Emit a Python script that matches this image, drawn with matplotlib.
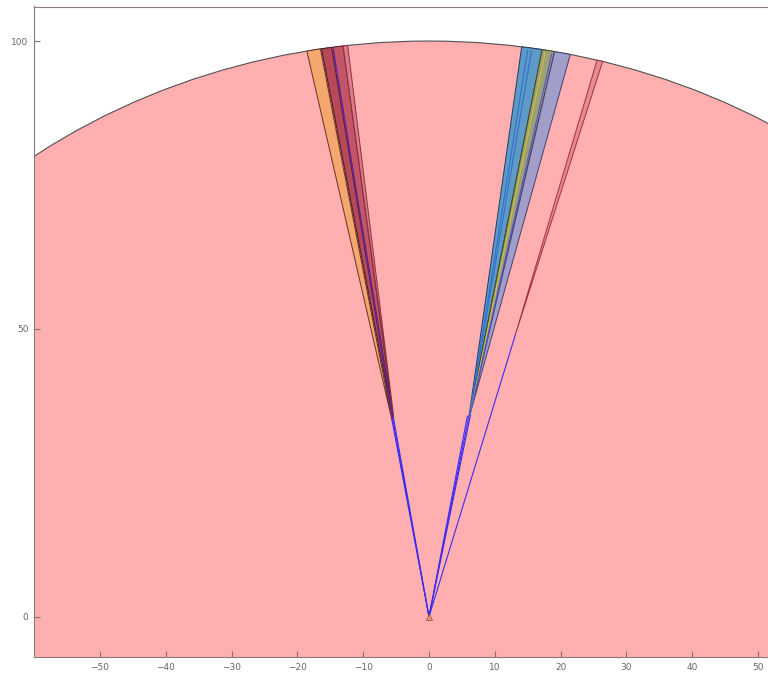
import numpy as np
import matplotlib
matplotlib.use("Agg")
import matplotlib.pyplot as plt
from matplotlib.patches import Circle, Polygon

# Sensor range and field
sensor_range = 100.0

# Shadow regions behind obstacles: apex (x, y), arc start/end angle (deg from +y, positive toward +x), colour
shadow_apex_x = [-5.6, -5.5, -5.4, -5.35, 6.1, 6.2, 6.3, 13.1]
shadow_apex_y = [34.0, 34.3, 34.5, 34.6, 35.0, 35.2, 35.4, 48.9]
shadow_theta1 = [-10.7, -9.4, -8.4, -7.5, 8.1, 9.9, 11.0, 14.8]
shadow_theta2 = [-9.5, -8.5, -7.5, -7.1, 9.9, 11.0, 12.4, 15.3]
shadow_colors = ["#F4A870", "#B64858", "#C45468", "#E07A88",
                 "#5E9AC6", "#9CA072", "#A29ECA", "#E88A92"]
shadow_edges = ["#6A3020", "#40181C", "#5A1C2C", "#8A3040",
                "#203A60", "#4A4A20", "#404070", "#A03040"]

# Extra boundary lines inside shadows: start point (x, y), end angle (deg), colour
inner_x0 = [-5.5, 6.2, 6.2, 6.3, 6.3]
inner_y0 = [34.3, 35.2, 35.2, 35.4, 35.4]
inner_theta = [-8.4, 8.66, 9.0, 10.2, 10.8]
inner_colors = ["#6020C0", "#3070D0", "#3070D0", "#C8C040", "#5050E0"]

# Rays from the sensor to detected obstacle points: angle (deg), length
ray_theta = [-9.36, -9.1, -8.9, 9.87, 9.5, 10.2, 15.0]
ray_len = [34.6, 34.8, 35.0, 35.5, 35.3, 35.6, 50.6]

xticks = [-50, -40, -30, -20, -10, 0, 10, 20, 30, 40, 50]
yticks = [0, 50, 100]


def polar(r, th_deg):
    t = np.radians(th_deg)
    return r * np.sin(t), r * np.cos(t)


fig = plt.figure(figsize=(7.68, 6.73), dpi=100)
ax = fig.add_axes([34 / 768, 16.5 / 673, 736 / 768, 650 / 673])

ax.add_patch(Circle((0, 0), sensor_range, facecolor="#FFAFB0",
                    edgecolor="#505050", linewidth=0.8, zorder=1))

for ax_x, ax_y, t1, t2, fc, ec in zip(shadow_apex_x, shadow_apex_y, shadow_theta1,
                                      shadow_theta2, shadow_colors, shadow_edges):
    ts = np.linspace(t1, t2, 20)
    pts = [(ax_x, ax_y)] + [polar(sensor_range, t) for t in ts]
    ax.add_patch(Polygon(pts, closed=True, facecolor=fc, edgecolor=ec,
                         linewidth=0.7, zorder=2))

for x0, y0, t, c in zip(inner_x0, inner_y0, inner_theta, inner_colors):
    x1, y1 = polar(sensor_range - 0.5, t)
    ax.plot([x0, x1], [y0, y1], color=c, linewidth=0.8, zorder=3)

for t, r in zip(ray_theta, ray_len):
    x1, y1 = polar(r, t)
    ax.plot([0, x1], [0, y1], color="#3A2CF0", linewidth=0.8, zorder=4)

ax.plot([0], [0], marker="^", markersize=4, markerfacecolor="#E8A080",
        markeredgecolor="#A05040", markeredgewidth=0.6, zorder=5)

ax.set_xlim(-60.03, 51.82)
ax.set_ylim(-6.91, 106.0)
ax.set_xticks(xticks)
ax.set_yticks(yticks)
ax.tick_params(direction="in", length=4, width=0.8, colors="#8A6E6E",
               labelcolor="#666666", labelsize=6.5, pad=5)
ax.tick_params(axis="y", pad=4)
for side in ["left", "bottom", "top"]:
    ax.spines[side].set_color("#8A7A7A")
    ax.spines[side].set_linewidth(0.8)
ax.spines["right"].set_visible(False)

fig.savefig("out.png", dpi=100)
